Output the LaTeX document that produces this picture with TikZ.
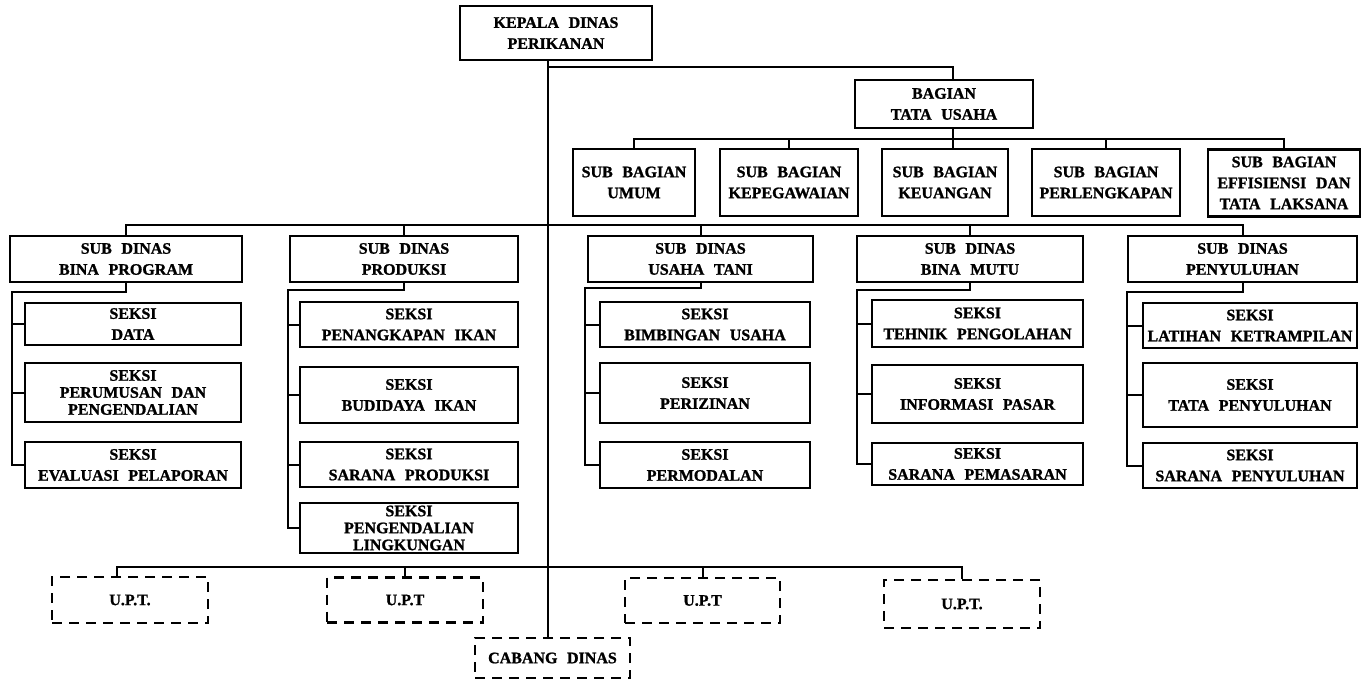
\documentclass[tikz,border=0pt]{standalone}
\usepackage{fontspec}
\setmainfont{Liberation Serif}[WordSpace=2.4, BoldFeatures={FakeBold=1.2}]
\begin{document}
\begin{tikzpicture}[x=1pt,y=-1pt,
  box/.style={draw, line width=2.3pt, align=center, inner sep=0pt,
    font=\bfseries\fontsize{16}{21}\selectfont},
  tight/.style={font=\bfseries\fontsize{16}{17}\selectfont},
  dbox/.style={box, dash pattern=on 10pt off 7pt},
  ln/.style={line width=2pt}]
\useasboundingbox[fill=white] (0,0) rectangle (1368,681);

% top
\node[box, minimum width=192pt, minimum height=54pt] (kepala) at (556,33) {KEPALA DINAS\\PERIKANAN};
\node[box, minimum width=178pt, minimum height=48pt] (bagian) at (944,104) {BAGIAN\\TATA USAHA};

% sub bagian
\node[box, minimum width=122pt, minimum height=67pt] (umum) at (634,182.5) {SUB BAGIAN\\UMUM};
\node[box, minimum width=138pt, minimum height=67pt] (kepeg) at (789,182.5) {SUB BAGIAN\\KEPEGAWAIAN};
\node[box, minimum width=126pt, minimum height=67pt] (keu) at (945,182.5) {SUB BAGIAN\\KEUANGAN};
\node[box, minimum width=148pt, minimum height=67pt] (perl) at (1106,182.5) {SUB BAGIAN\\PERLENGKAPAN};
\node[box, minimum width=152pt, minimum height=67pt] (eff) at (1284,183) {SUB BAGIAN\\EFFISIENSI DAN\\TATA LAKSANA};

% sub dinas
\node[box, minimum width=232pt, minimum height=46pt] (bp) at (126,259) {SUB DINAS\\BINA PROGRAM};
\node[box, minimum width=228pt, minimum height=46pt] (prod) at (404,259) {SUB DINAS\\PRODUKSI};
\node[box, minimum width=225pt, minimum height=46pt] (ut) at (700.5,259) {SUB DINAS\\USAHA TANI};
\node[box, minimum width=226pt, minimum height=46pt] (bm) at (970,259) {SUB DINAS\\BINA MUTU};
\node[box, minimum width=229pt, minimum height=46pt] (peny) at (1242.5,259) {SUB DINAS\\PENYULUHAN};

% seksi bina program
\node[box, minimum width=216pt, minimum height=42pt] (data) at (133,324) {SEKSI\\DATA};
\node[box, tight, minimum width=216pt, minimum height=59pt] (perum) at (133,392.5) {SEKSI\\PERUMUSAN DAN\\PENGENDALIAN};
\node[box, minimum width=216pt, minimum height=46pt] (eval) at (133,465) {SEKSI\\EVALUASI PELAPORAN};

% seksi produksi
\node[box, minimum width=218pt, minimum height=45pt] (pen) at (409,324.5) {SEKSI\\PENANGKAPAN IKAN};
\node[box, minimum width=218pt, minimum height=56pt] (bud) at (409,395) {SEKSI\\BUDIDAYA IKAN};
\node[box, minimum width=218pt, minimum height=45pt] (sarprod) at (409,464.5) {SEKSI\\SARANA PRODUKSI};
\node[box, tight, minimum width=218pt, minimum height=50pt] (peng) at (409,528) {SEKSI\\PENGENDALIAN\\LINGKUNGAN};

% seksi usaha tani
\node[box, minimum width=210pt, minimum height=45pt] (bim) at (705,324.5) {SEKSI\\BIMBINGAN USAHA};
\node[box, minimum width=210pt, minimum height=60pt] (periz) at (705,393) {SEKSI\\PERIZINAN};
\node[box, minimum width=210pt, minimum height=46pt] (perm) at (705,465) {SEKSI\\PERMODALAN};

% seksi bina mutu
\node[box, minimum width=211pt, minimum height=47pt] (teh) at (977.5,323.5) {SEKSI\\TEHNIK PENGOLAHAN};
\node[box, minimum width=211pt, minimum height=58pt] (inf) at (977.5,394) {SEKSI\\INFORMASI PASAR};
\node[box, minimum width=211pt, minimum height=42pt] (sarpem) at (977.5,464) {SEKSI\\SARANA PEMASARAN};

% seksi penyuluhan
\node[box, minimum width=214pt, minimum height=45pt] (lat) at (1250,325.5) {SEKSI\\LATIHAN KETRAMPILAN};
\node[box, minimum width=214pt, minimum height=64pt] (tata) at (1250,395) {SEKSI\\TATA PENYULUHAN};
\node[box, minimum width=214pt, minimum height=45pt] (sarpen) at (1250,465.5) {SEKSI\\SARANA PENYULUHAN};

% UPT and cabang
\node[dbox, minimum width=156pt, minimum height=46pt] (u1) at (130,600) {U.P.T.};
\node[dbox, minimum width=156pt, minimum height=45pt] (u2) at (405,600) {U.P.T};
\node[dbox, minimum width=155pt, minimum height=45pt] (u3) at (702.5,600.5) {U.P.T};
\node[dbox, minimum width=156pt, minimum height=48pt] (u4) at (962,604) {U.P.T.};
\node[dbox, minimum width=155pt, minimum height=40pt] (cabang) at (552.5,658) {CABANG DINAS};

% connectors
\coordinate (spine) at (548,67);
\coordinate (tu) at (953,67);
\draw[ln] (kepala.south -| spine) -- (cabang.north -| spine);
\draw[ln] (spine) -- (tu) -- (tu |- bagian.north);

\coordinate (sbb) at (953,139);
\draw[ln] (tu |- bagian.south) -- (tu |- keu.north);
\draw[ln] (umum.north) -- (umum.north |- sbb) -- (eff.north |- sbb) -- (eff.north);
\draw[ln] (kepeg.north |- sbb) -- (kepeg.north);
\draw[ln] (perl.north |- sbb) -- (perl.north);

\coordinate (sdb) at (548,225);
\draw[ln] (bp.north) -- (bp.north |- sdb) -- (peny.north |- sdb) -- (peny.north);
\draw[ln] (prod.north |- sdb) -- (prod.north);
\draw[ln] (ut.north |- sdb) -- (ut.north);
\draw[ln] (bm.north |- sdb) -- (bm.north);

% bina program group
\coordinate (bps) at (12,292);
\draw[ln] (bp.south) -- (bp.south |- bps) -- (bps) -- (bps |- eval.west) -- (eval.west);
\draw[ln] (bps |- data.west) -- (data.west);
\draw[ln] (bps |- perum.west) -- (perum.west);

% produksi group
\coordinate (prs) at (288,290);
\draw[ln] (prod.south) -- (prod.south |- prs) -- (prs) -- (prs |- peng.west) -- (peng.west);
\draw[ln] (prs |- pen.west) -- (pen.west);
\draw[ln] (prs |- bud.west) -- (bud.west);
\draw[ln] (prs |- sarprod.west) -- (sarprod.west);

% usaha tani group
\coordinate (uts) at (585,288);
\draw[ln] (ut.south) -- (ut.south |- uts) -- (uts) -- (uts |- perm.west) -- (perm.west);
\draw[ln] (uts |- bim.west) -- (bim.west);
\draw[ln] (uts |- periz.west) -- (periz.west);

% bina mutu group
\coordinate (bms) at (857,290);
\draw[ln] (bm.south) -- (bm.south |- bms) -- (bms) -- (bms |- sarpem.west) -- (sarpem.west);
\draw[ln] (bms |- teh.west) -- (teh.west);
\draw[ln] (bms |- inf.west) -- (inf.west);

% penyuluhan group
\coordinate (pys) at (1127,292);
\draw[ln] (peny.south) -- (peny.south |- pys) -- (pys) -- (pys |- sarpen.west) -- (sarpen.west);
\draw[ln] (pys |- lat.west) -- (lat.west);
\draw[ln] (pys |- tata.west) -- (tata.west);

% UPT bus
\coordinate (ub) at (117,567);
\draw[ln] (ub |- u1.north) -- (ub) -- (u4.north |- ub) -- (u4.north);
\draw[ln] (u2.north |- ub) -- (u2.north);
\draw[ln] (u3.north |- ub) -- (u3.north);
\end{tikzpicture}
\end{document}
